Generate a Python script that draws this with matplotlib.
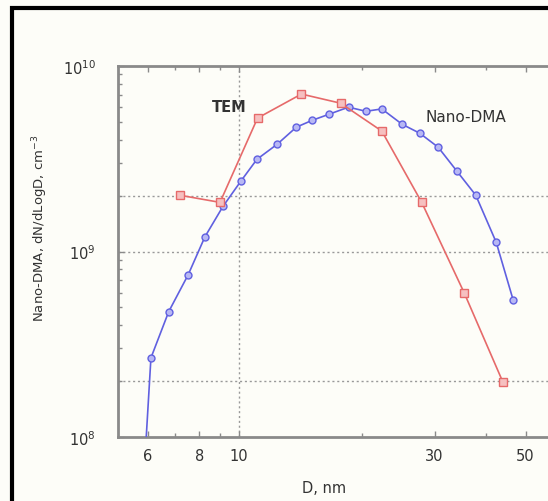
import matplotlib.pyplot as plt
from matplotlib.patches import Rectangle
from matplotlib.ticker import FixedLocator, NullFormatter, FixedFormatter

# Nano-DMA size distribution
dma_d = [5.86, 6.10, 6.74, 7.52, 8.26, 9.14, 10.1, 11.06, 12.4, 13.8, 15.1, 16.6,
         18.5, 20.4, 22.3, 25.0, 27.6, 30.6, 34.0, 37.8, 42.4, 46.6]
dma_n = [6.0e7, 2.67e8, 4.74e8, 7.5e8, 1.2e9, 1.75e9, 2.39e9, 3.14e9, 3.79e9, 4.68e9, 5.1e9, 5.5e9,
         6.0e9, 5.7e9, 5.87e9, 4.85e9, 4.34e9, 3.65e9, 2.71e9, 2.01e9, 1.12e9, 5.5e8]

# TEM size distribution
tem_d = [7.18, 8.99, 11.1, 14.2, 17.7, 22.3, 27.9, 35.4, 44.0]
tem_n = [2.01e9, 1.84e9, 5.24e9, 7.06e9, 6.3e9, 4.46e9, 1.84e9, 6.0e8, 1.98e8]

x_major = [6, 8, 10, 30, 50]
x_minor = [7, 9, 20, 40]
x_grid = [10]
y_grid = [2e8, 1e9, 2e9]

bg = '#fdfdf8'
txt = '#333333'
spine = '#8a8a8a'

fig = plt.figure(figsize=(5.48, 5.02), dpi=100, facecolor=bg)
ax = fig.add_axes([118 / 548, 1 - 438 / 502, 1 - 118 / 548, (438 - 67) / 502])
ax.set_facecolor(bg)

for g in x_grid:
    ax.axvline(g, color='#999999', lw=1, ls=(0, (1.5, 2)), zorder=1)
for g in y_grid:
    ax.axhline(g, color='#999999', lw=1, ls=(0, (1.5, 2)), zorder=1)

ax.plot(dma_d, dma_n, color='#6060e0', lw=1.2, marker='o', ms=5,
        mfc='#b8b8f4', mec='#6060e0', mew=1, zorder=3)
ax.plot(tem_d, tem_n, color='#e66a6a', lw=1.2, marker='s', ms=6,
        mfc='#f6c0c0', mec='#e66a6a', mew=1, zorder=3)

ax.set_xscale('log')
ax.set_yscale('log')
ax.set_xlim(5.07, 56.7)
ax.set_ylim(1e8, 1e10)

ax.xaxis.set_major_locator(FixedLocator(x_major))
ax.xaxis.set_major_formatter(FixedFormatter([str(v) for v in x_major]))
ax.xaxis.set_minor_locator(FixedLocator(x_minor))
ax.xaxis.set_minor_formatter(NullFormatter())

ax.tick_params(which='both', direction='in', top=True, right=False, color=spine)
ax.tick_params(which='major', length=4, width=1, labelsize=10.5, labelcolor=txt)
ax.tick_params(which='minor', length=3, width=1)
ax.tick_params(axis='x', which='major', pad=8)
ax.tick_params(axis='y', which='major', pad=16)

for s in ['left', 'bottom', 'top']:
    ax.spines[s].set_color(spine)
    ax.spines[s].set_linewidth(2)
ax.spines['right'].set_visible(False)

ax.set_xlabel('D, nm', fontsize=10.5, color=txt)
ax.xaxis.set_label_coords((324 - 118) / (548 - 118), -(481 - 438) / (438 - 67))
ax.set_ylabel('Nano-DMA, dN/dLogD, cm$^{-3}$', fontsize=9.5, color=txt)
ax.yaxis.set_label_coords(-(118 - 50) / (548 - 118), (438 - 228) / (438 - 67))

ax.text(229.5 / 548, 1 - 108 / 502, 'TEM', transform=fig.transFigure, fontsize=10.5,
        fontweight='bold', color=txt, ha='center', va='center')
ax.text(466 / 548, 1 - 118 / 502, 'Nano-DMA', transform=fig.transFigure, fontsize=11,
        color=txt, ha='center', va='center')

fig.patches.append(Rectangle((12 / 548, -0.1), 1.2, 1 - 9 / 502 + 0.1, transform=fig.transFigure,
                             fill=False, edgecolor='black', lw=3))

fig.savefig('out.png', dpi=100, facecolor=bg)
